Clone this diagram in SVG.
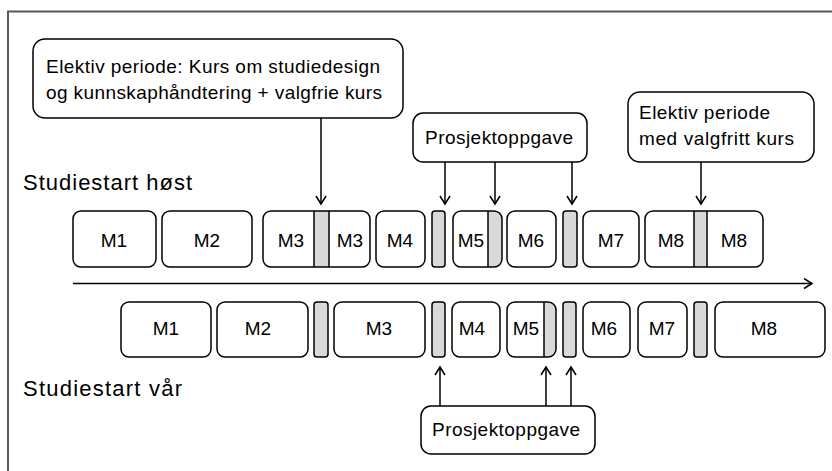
<svg xmlns="http://www.w3.org/2000/svg" width="832" height="471" viewBox="0 0 832 471">
<style>
text{font-family:"Liberation Sans",Arial,sans-serif;fill:#000}
.lbl{font-size:19px}
.hd{font-size:22px}
.m{font-size:19px;text-anchor:middle}
.box{fill:#fff;stroke:#000;stroke-width:1.5}
.mod{fill:none;stroke:#000;stroke-width:1.5}
.bar{fill:#d9d9d9;stroke:#000;stroke-width:1.5}
.gfill{fill:#d9d9d9}
.ln{stroke:#000;stroke-width:1.5;fill:none}
.con{stroke:#000;stroke-width:1.5;fill:none;marker-end:url(#ah)}
</style>
<defs>
<marker id="ah" markerWidth="12" markerHeight="12" refX="9" refY="6" orient="auto" markerUnits="userSpaceOnUse">
<path d="M1,1 L9,6 L1,11" fill="none" stroke="#000" stroke-width="1.5"/>
</marker>
<clipPath id="c1"><rect x="263" y="211" width="107" height="56" rx="8"/></clipPath>
<clipPath id="c2"><rect x="453" y="211" width="49" height="56" rx="8"/></clipPath>
<clipPath id="c3"><rect x="645" y="211" width="118" height="56" rx="8"/></clipPath>
<clipPath id="c4"><rect x="507" y="302" width="49" height="55" rx="8"/></clipPath>
</defs>
<rect x="0" y="0" width="832" height="471" fill="#fff"/>
<g id="frame"><path d="M832,11.5 H8 V471" fill="none" stroke="#595959" stroke-width="2"/></g>

<g id="label-host"><text class="hd" x="23" y="190" textLength="169">Studiestart høst</text></g>
<g id="label-var"><text class="hd" x="23" y="396" textLength="159">Studiestart vår</text></g>

<g id="callout-elektiv1">
<rect class="box" x="33" y="39" width="370" height="79" rx="12"/>
<text class="lbl" x="46" y="73" textLength="334">Elektiv periode: Kurs om studiedesign</text>
<text class="lbl" x="46" y="99" textLength="336">og kunnskaphåndtering + valgfrie kurs</text>
</g>
<g id="callout-prosjekt-top">
<rect class="box" x="413" y="113" width="174" height="49" rx="10"/>
<text class="lbl" x="425" y="144" textLength="148">Prosjektoppgave</text>
</g>
<g id="callout-elektiv2">
<rect class="box" x="628" y="92" width="186" height="70" rx="12"/>
<text class="lbl" x="639" y="119" textLength="131">Elektiv periode</text>
<text class="lbl" x="639" y="145" textLength="155">med valgfritt kurs</text>
</g>
<g id="callout-prosjekt-bottom">
<rect class="box" x="421" y="406" width="174" height="48" rx="10"/>
<text class="lbl" x="432" y="436" textLength="148">Prosjektoppgave</text>
</g>

<g id="h-M1"><rect class="mod" x="73" y="211" width="83" height="56" rx="8"/><text class="m" x="114" y="247">M1</text></g>
<g id="h-M2"><rect class="mod" x="162" y="211" width="90" height="56" rx="8"/><text class="m" x="207" y="247">M2</text></g>
<g id="h-M3">
<rect class="gfill" x="314" y="211" width="15" height="56" clip-path="url(#c1)"/>
<line class="ln" x1="314" y1="211" x2="314" y2="267"/><line class="ln" x1="329" y1="211" x2="329" y2="267"/>
<rect class="mod" x="263" y="211" width="107" height="56" rx="8"/>
<text class="m" x="291" y="247">M3</text><text class="m" x="350" y="247">M3</text></g>
<g id="h-M4"><rect class="mod" x="376" y="211" width="49" height="56" rx="8"/><text class="m" x="400" y="247">M4</text></g>
<g id="h-bar1"><rect class="bar" x="432" y="211" width="13" height="56" rx="3"/></g>
<g id="h-M5">
<rect class="gfill" x="488" y="211" width="14" height="56" clip-path="url(#c2)"/>
<line class="ln" x1="488" y1="211" x2="488" y2="267"/>
<rect class="mod" x="453" y="211" width="49" height="56" rx="8"/>
<text class="m" x="471" y="247">M5</text></g>
<g id="h-M6"><rect class="mod" x="507" y="211" width="49" height="56" rx="8"/><text class="m" x="531" y="247">M6</text></g>
<g id="h-bar2"><rect class="bar" x="563" y="211" width="14" height="56" rx="3"/></g>
<g id="h-M7"><rect class="mod" x="583" y="211" width="56" height="56" rx="8"/><text class="m" x="611" y="247">M7</text></g>
<g id="h-M8">
<rect class="gfill" x="694" y="211" width="13" height="56" clip-path="url(#c3)"/>
<line class="ln" x1="694" y1="211" x2="694" y2="267"/><line class="ln" x1="707" y1="211" x2="707" y2="267"/>
<rect class="mod" x="645" y="211" width="118" height="56" rx="8"/>
<text class="m" x="671" y="247">M8</text><text class="m" x="734" y="247">M8</text></g>

<g id="v-M1"><rect class="mod" x="121" y="302" width="90" height="55" rx="8"/><text class="m" x="166" y="335">M1</text></g>
<g id="v-M2"><rect class="mod" x="217" y="302" width="91" height="55" rx="8"/><text class="m" x="258" y="335">M2</text></g>
<g id="v-bar1"><rect class="bar" x="314" y="302" width="14" height="55" rx="3"/></g>
<g id="v-M3"><rect class="mod" x="334" y="302" width="91" height="55" rx="8"/><text class="m" x="379" y="335">M3</text></g>
<g id="v-bar2"><rect class="bar" x="432" y="302" width="13" height="55" rx="3"/></g>
<g id="v-M4"><rect class="mod" x="452" y="302" width="48" height="55" rx="8"/><text class="m" x="472" y="335">M4</text></g>
<g id="v-M5">
<rect class="gfill" x="544" y="302" width="12" height="55" clip-path="url(#c4)"/>
<line class="ln" x1="544" y1="302" x2="544" y2="357"/>
<rect class="mod" x="507" y="302" width="49" height="55" rx="8"/>
<text class="m" x="526" y="335">M5</text></g>
<g id="v-bar3"><rect class="bar" x="563" y="302" width="13" height="55" rx="3"/></g>
<g id="v-M6"><rect class="mod" x="583" y="302" width="47" height="55" rx="8"/><text class="m" x="604" y="335">M6</text></g>
<g id="v-M7"><rect class="mod" x="638" y="302" width="49" height="55" rx="8"/><text class="m" x="662" y="335">M7</text></g>
<g id="v-bar4"><rect class="bar" x="694" y="302" width="13" height="55" rx="3"/></g>
<g id="v-M8"><rect class="mod" x="715" y="302" width="110" height="55" rx="8"/><text class="m" x="764" y="335">M8</text></g>

<g id="connectors">
<line class="con" x1="73" y1="283.5" x2="812" y2="283.5"/>
<line class="con" x1="321" y1="118" x2="321" y2="204"/>
<line class="con" x1="445" y1="162" x2="445" y2="204"/>
<line class="con" x1="495" y1="162" x2="495" y2="204"/>
<line class="con" x1="572" y1="162" x2="572" y2="204"/>
<line class="con" x1="701" y1="162" x2="701" y2="204"/>
<line class="con" x1="440" y1="406" x2="440" y2="367"/>
<line class="con" x1="546" y1="406" x2="546" y2="367"/>
<line class="con" x1="571" y1="406" x2="571" y2="367"/>
</g>
</svg>
